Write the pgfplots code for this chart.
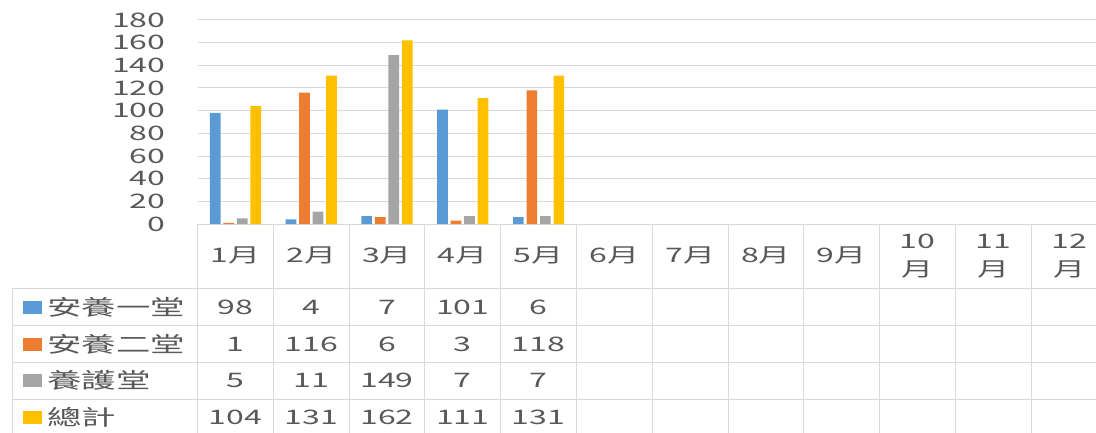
\documentclass[border=0pt]{standalone}
\usepackage{fontspec}
\setmainfont{Noto Sans CJK TC}[FakeStretch=1.6]
\usepackage{pgfplots}
\pgfplotsset{compat=1.18}
\definecolor{cblue}{HTML}{5B9BD5}
\definecolor{corange}{HTML}{ED7D31}
\definecolor{cgray}{HTML}{A5A5A5}
\definecolor{cyellow}{HTML}{FFC000}
\definecolor{gridc}{HTML}{D9D9D9}
\definecolor{txt}{HTML}{595959}
\begin{document}
\fontsize{20pt}{28pt}\selectfont
\begin{tikzpicture}[x=1pt,y=1pt]
\begin{axis}[
  at={(197.5pt,208pt)}, anchor=south west,
  scale only axis, width=909.6pt, height=204pt,
  xmin=0.5, xmax=12.5, ymin=0, ymax=180,
  ybar=2.8pt, bar width=10.7pt,
  axis line style={draw=none},
  ytick={0,20,...,180}, xtick=\empty,
  ymajorgrids, grid style={gridc, line width=1pt},
  major tick length=0pt,
  /pgf/number format/assume math mode=true,
  yticklabel style={font=\fontsize{20pt}{24pt}\selectfont, text=txt, anchor=east, inner sep=0pt, xshift=-32pt},
  clip=false,
]
\addplot[fill=cblue, draw=none] coordinates {(1,98) (2,4) (3,7) (4,101) (5,6)};
\addplot[fill=corange, draw=none] coordinates {(1,1) (2,116) (3,6) (4,3) (5,118)};
\addplot[fill=cgray, draw=none] coordinates {(1,5) (2,11) (3,149) (4,7) (5,7)};
\addplot[fill=cyellow, draw=none] coordinates {(1,104) (2,131) (3,162) (4,111) (5,131)};
\end{axis}
% table grid
\foreach \k in {0,...,12} \draw[gridc, line width=1pt] (197.5+75.8*\k, 208) -- (197.5+75.8*\k, -10);
\foreach \yy in {143.7,106.3,69.7,32.7} \draw[gridc, line width=1pt] (12.6,\yy) -- (1120,\yy);
\draw[gridc, line width=1pt] (12.6,143.7) -- (12.6,-10);
% header
\foreach \m in {1,...,9} \node[text=txt, inner sep=0pt] at (197.5+75.8*\m-37.9, 176.2) {\m 月};
\foreach \m in {10,11,12} \node[text=txt, inner sep=0pt, align=center] at (197.5+75.8*\m-37.9, 176.2) {\m\\月};
% rows
\foreach \v [count=\i] in {98,4,7,101,6} \node[text=txt, inner sep=0pt] at (197.5+75.8*\i-37.9, 125) {\v};
\foreach \v [count=\i] in {1,116,6,3,118} \node[text=txt, inner sep=0pt] at (197.5+75.8*\i-37.9, 88) {\v};
\foreach \v [count=\i] in {5,11,149,7,7} \node[text=txt, inner sep=0pt] at (197.5+75.8*\i-37.9, 51.2) {\v};
\foreach \v [count=\i] in {104,131,162,111,131} \node[text=txt, inner sep=0pt] at (197.5+75.8*\i-37.9, 14.3) {\v};
% legend keys
\fill[cblue] (23.3,118.5) rectangle (41.7,131.5);
\fill[corange] (23.3,81.5) rectangle (41.7,94.5);
\fill[cgray] (23.3,44.7) rectangle (41.7,57.7);
\fill[cyellow] (23.3,7.8) rectangle (41.7,20.8);
\begin{scope}[every node/.style={text=txt, inner sep=0pt, anchor=west, font=\fontsize{21.5pt}{24pt}\selectfont}]
\node at (47,125) {安養一堂};
\node at (47,88) {安養二堂};
\node at (47,51.2) {養護堂};
\node at (47,14.3) {總計};
\end{scope}
\pgfresetboundingbox
\useasboundingbox (0,0) rectangle (1096,432);
\end{tikzpicture}
\end{document}
